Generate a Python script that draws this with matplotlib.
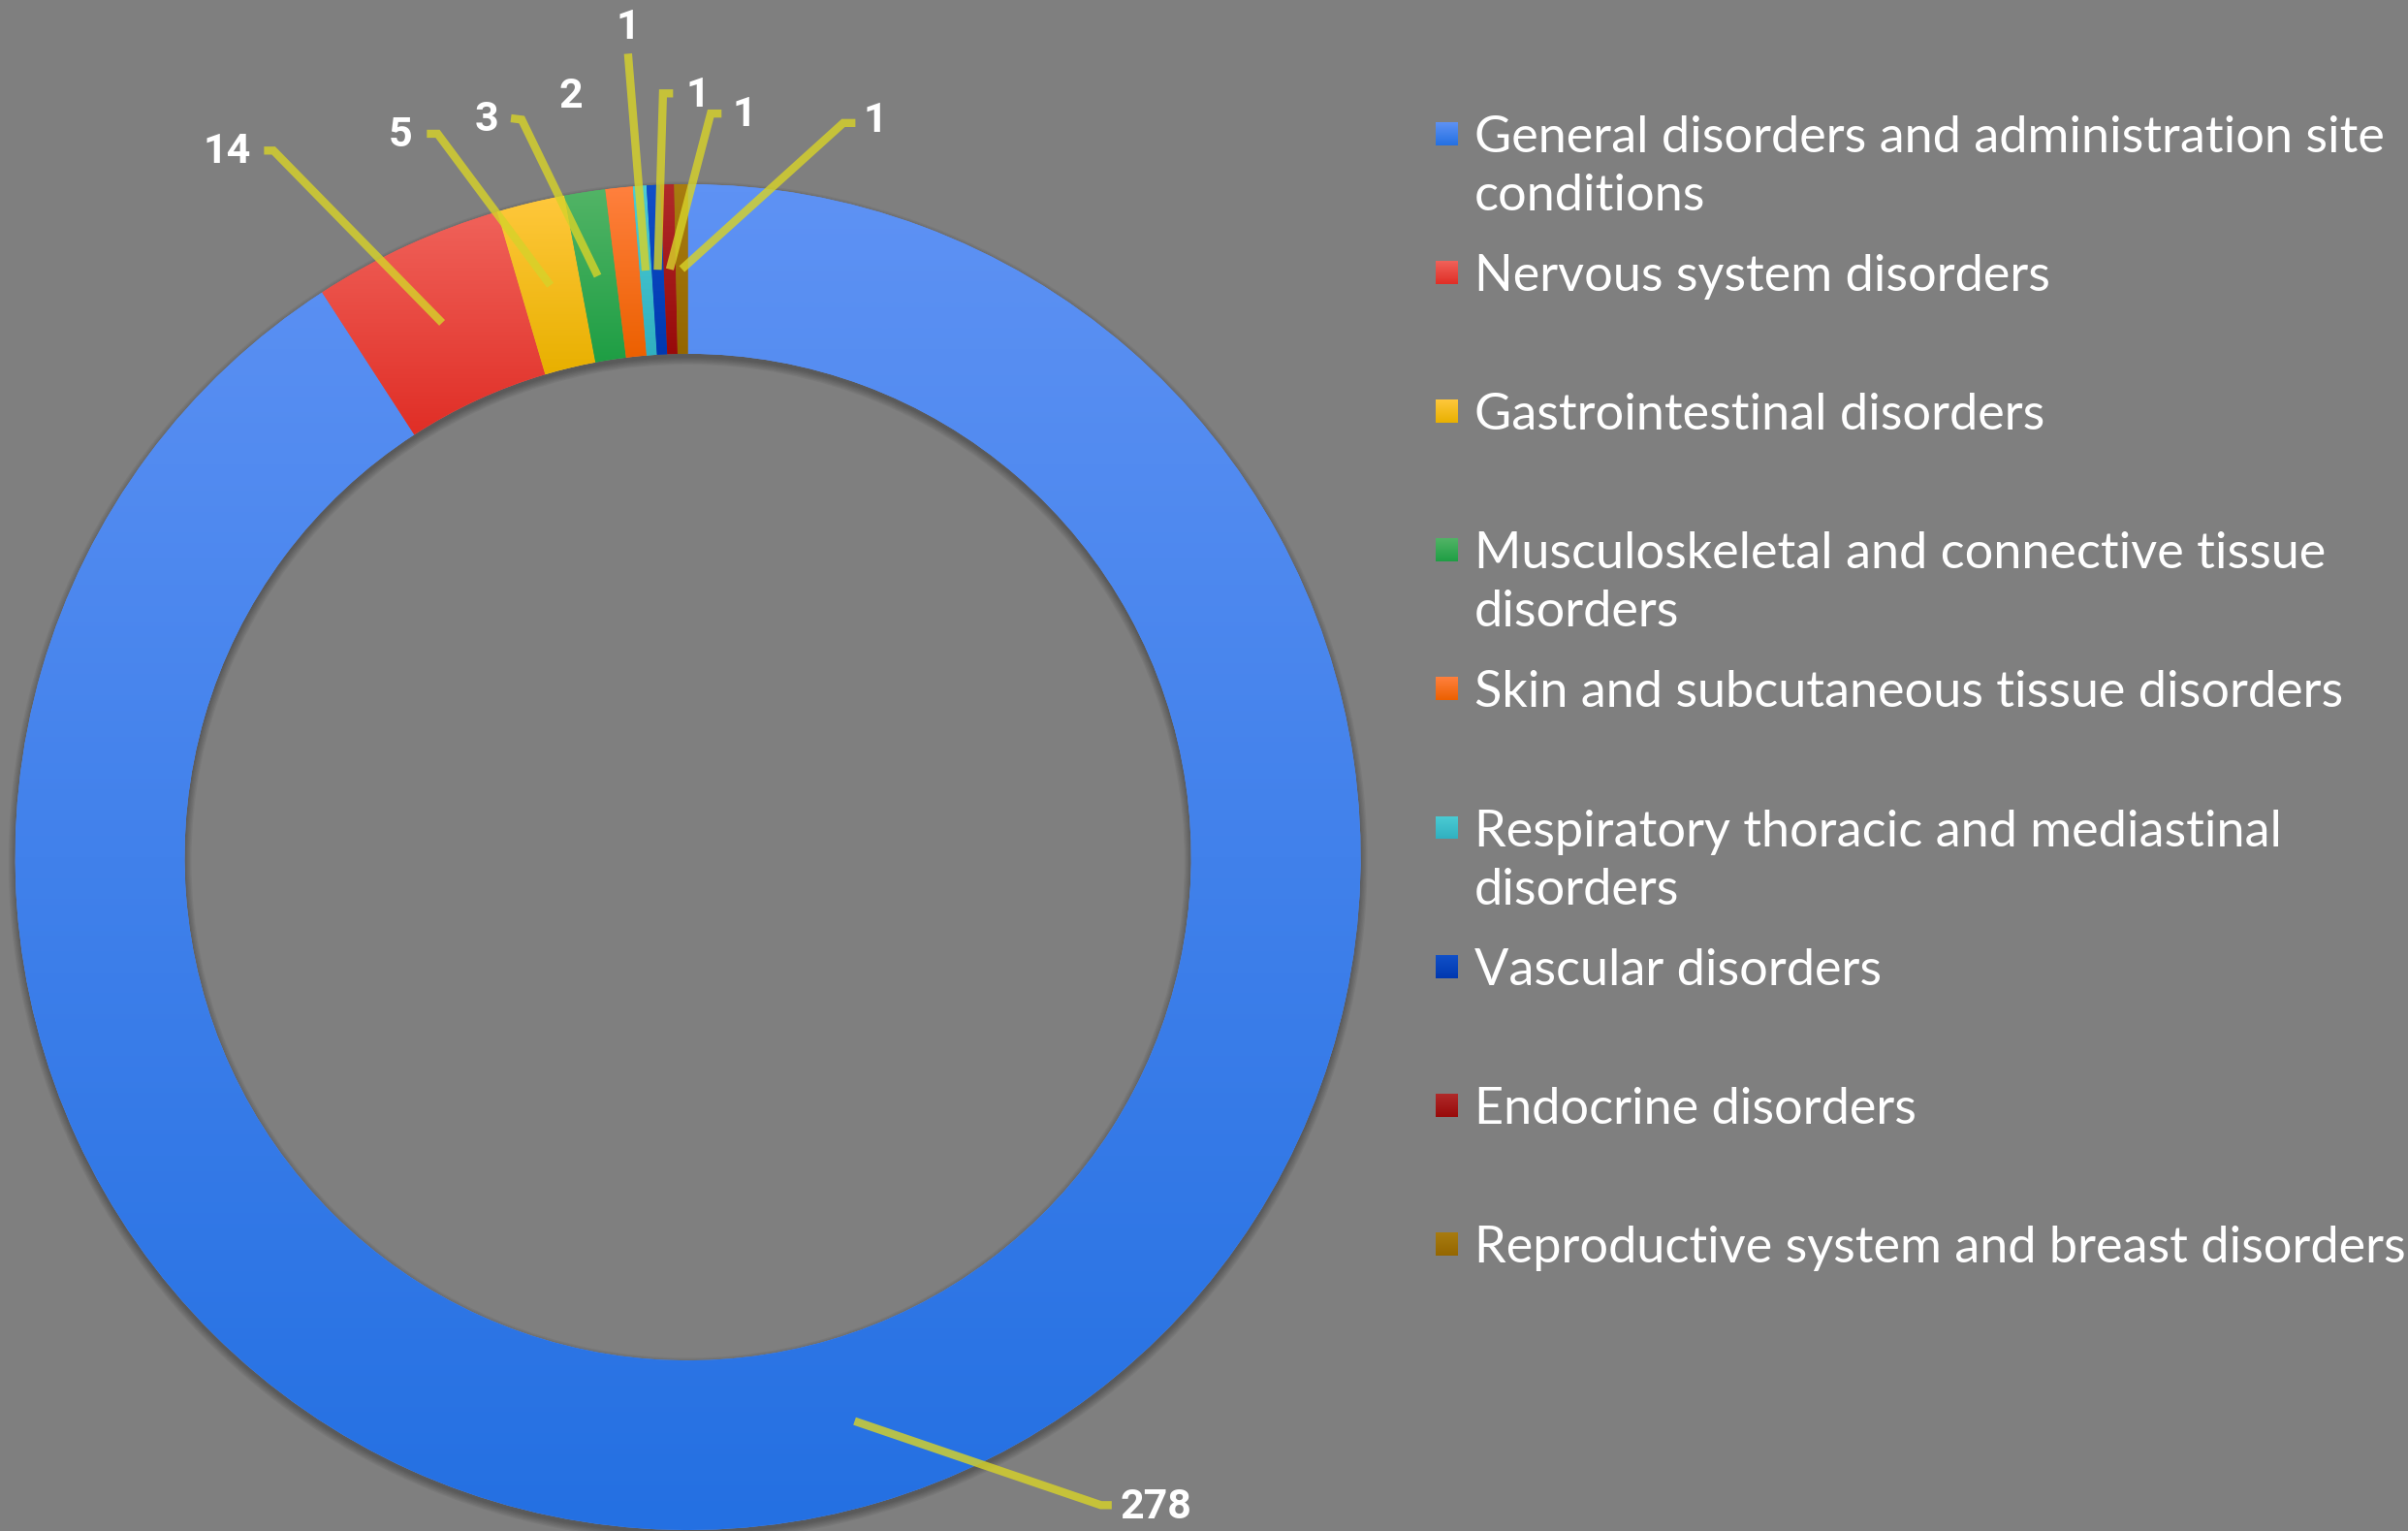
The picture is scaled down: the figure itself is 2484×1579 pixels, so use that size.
import numpy as np
import matplotlib
matplotlib.use("Agg")
import matplotlib.pyplot as plt
from matplotlib.colors import LinearSegmentedColormap
from matplotlib.patches import Annulus

# data
categories = [
    "General disorders and administration site\nconditions",
    "Nervous system disorders",
    "Gastrointestinal disorders",
    "Musculoskeletal and connective tissue\ndisorders",
    "Skin and subcutaneous tissue disorders",
    "Respiratory thoracic and mediastinal\ndisorders",
    "Vascular disorders",
    "Endocrine disorders",
    "Reproductive system and breast disorders",
]
counts = [278, 14, 5, 3, 2, 1, 1, 1, 1]
value_labels = ["278", "14", "5", "3", "2", "1", "1", "1", "1"]

# slice colours, light (top) -> dark (bottom)
top_colors = ["#5e92f4", "#f0625a", "#ffc83c", "#52b466", "#ff803e",
              "#4cccd4", "#1050c8", "#b02a2a", "#a87c10"]
bottom_colors = ["#2470e2", "#e02e26", "#e8b000", "#1e9e44", "#ec6000",
                 "#30b0c0", "#0038b0", "#980a0a", "#946600"]

# label layout (units of outer radius): text position, elbow, stub end
label_text = [(0.696, -0.966), (-0.685, 1.048), (-0.427, 1.073), (-0.299, 1.096),
              (-0.174, 1.130), (-0.089, 1.233), (0.014, 1.132), (0.084, 1.103),
              (0.278, 1.094)]
label_elbow = [(0.614, -0.963), (-0.616, 1.050), (-0.372, 1.075), (-0.247, 1.096),
               None, (-0.089, 1.194), (-0.037, 1.135), (0.034, 1.105),
               (0.231, 1.091)]
label_stub = [(0.630, -0.963), (-0.630, 1.050), (-0.388, 1.075), (-0.263, 1.098),
              None, None, (-0.022, 1.135), (0.050, 1.105), (0.249, 1.091)]

BG = "#7f7f7f"
W, H = 2484, 1579
CX, CY, R = 709.6, 884.0, 694.0
RING = 0.252

fig = plt.figure(figsize=(W / 100, H / 100), dpi=100, facecolor=BG)
ax = fig.add_axes([0, 0, 1, 1])
ax.set_facecolor(BG)
ax.axis("off")

# soft drop shadow under the ring
for k in range(6):
    ax.add_patch(Annulus((0, -0.006), 1.0 + 0.002 * k, RING + 0.004 * k,
                         color="black", alpha=0.05, lw=0, zorder=1))

wedges, _ = ax.pie(counts, startangle=90, counterclock=False, radius=1.0,
                   colors=top_colors,
                   wedgeprops=dict(width=RING, linewidth=0, zorder=2))

grad = np.linspace(0, 1, 256).reshape(-1, 1)
cmaps = [LinearSegmentedColormap.from_list("g", [c0, c1])
         for c0, c1 in zip(top_colors, bottom_colors)]
for w, cmap in zip(wedges, cmaps):
    bb = w.get_path().get_extents()
    im = ax.imshow(grad, extent=[bb.x0, bb.x1, bb.y0, bb.y1], origin="upper",
                   cmap=cmap, aspect="auto", interpolation="bilinear", zorder=3)
    im.set_clip_path(w)

# value labels with leader lines
mid_r = 1.0 - RING / 2
for w, txt, pos, elbow, stub in zip(wedges, value_labels, label_text, label_elbow, label_stub):
    if elbow is not None:
        ang = np.deg2rad((w.theta1 + w.theta2) / 2)
        xs = [mid_r * np.cos(ang), elbow[0]]
        ys = [mid_r * np.sin(ang), elbow[1]]
        if stub is not None:
            xs.append(stub[0])
            ys.append(stub[1])
        ax.plot(xs, ys, color="#d6d22a", alpha=0.82, lw=6, solid_capstyle="butt",
                solid_joinstyle="miter", zorder=5)
    ax.text(pos[0], pos[1], txt, color="white", fontsize=31, fontweight="bold",
            family="Roboto", ha="center", va="center", zorder=6)

ax.set_xlim(-CX / R, (W - CX) / R)
ax.set_ylim(-(H - CY) / R, CY / R)
ax.set_aspect("equal")

# legend drawn by hand: fixed slot per entry, small gradient swatches
row0, step, line_gap = 138, 143.1, 60
for i, (lab, cmap) in enumerate(zip(categories, cmaps)):
    yc = row0 + i * step
    sax = fig.add_axes([1481 / W, 1 - (yc + 12) / H, 23 / W, 24 / H])
    sax.imshow(grad, cmap=cmap, aspect="auto", interpolation="bilinear")
    sax.axis("off")
    for j, line in enumerate(lab.split("\n")):
        fig.text(1521 / W, 1 - (yc + j * line_gap + 19) / H, line, color="white",
                 fontsize=37.6, family="Lato", ha="left", va="baseline")

fig.savefig("out.png", dpi=100, facecolor=BG)
